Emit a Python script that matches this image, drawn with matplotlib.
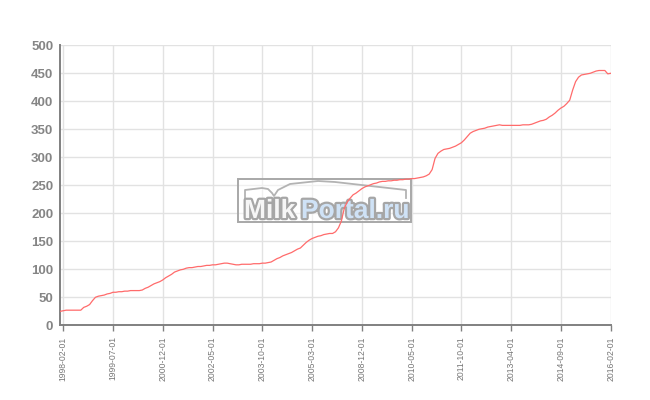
import matplotlib
matplotlib.use('Agg')
import matplotlib.pyplot as plt
import matplotlib.patheffects as pe
from matplotlib.patches import Rectangle
from matplotlib.lines import Line2D

plt.rcParams['font.family'] = ['Liberation Sans', 'DejaVu Sans']

# monthly values (1998-01 .. 2016-02, gap 2005-2008 squeezed)
values = [25, 26, 27, 27, 27, 27, 27, 27, 32, 34,
          37, 44, 50, 52, 53, 54, 56, 57, 59, 59,
          60, 60, 61, 61, 62, 62, 62, 62, 63, 66,
          68, 71, 74, 76, 78, 81, 85, 88, 91, 95,
          97, 99, 100, 102, 103, 103, 104, 105, 105, 106,
          107, 107, 108, 108, 109, 110, 111, 111, 110, 109,
          108, 108, 109, 109, 109, 109, 110, 110, 110, 111,
          111, 112, 113, 116, 119, 121, 124, 126, 128, 130,
          133, 136, 138, 143, 148, 152, 155, 157, 159, 160,
          162, 163, 164, 164, 167, 174, 186, 209, 220, 227,
          233, 236, 240, 244, 247, 249, 251, 253, 254, 256,
          257, 257, 258, 258, 259, 259, 260, 260, 261, 261,
          262, 262, 263, 264, 265, 267, 270, 278, 298, 307,
          311, 314, 315, 316, 318, 320, 323, 326, 331, 337,
          343, 346, 348, 350, 351, 352, 354, 355, 356, 357,
          358, 357, 357, 357, 357, 357, 357, 357, 358, 358,
          358, 359, 361, 363, 365, 366, 368, 372, 375, 379,
          384, 388, 391, 396, 402, 420, 435, 443, 447, 448,
          449, 450, 452, 454, 455, 455, 455, 449, 450]

tick_labels = ['1998-02-01', '1999-07-01', '2000-12-01', '2002-05-01',
               '2003-10-01', '2005-03-01', '2008-12-01', '2010-05-01',
               '2011-10-01', '2013-04-01', '2014-09-01', '2016-02-01']
y_ticks = [0, 50, 100, 150, 200, 250, 300, 350, 400, 450, 500]

W, H = 650, 400
fig = plt.figure(figsize=(6.5, 4), dpi=100)
ax = fig.add_axes([60.3 / W, 1 - 325.3 / H, 550.4 / W, 280 / H])

x = list(range(len(values)))
ax.plot(x, values, color='#ff6b6b', lw=0.9, zorder=3)

tick_pos = [1 + 17 * k for k in range(len(tick_labels))]
ax.set_xlim(0, len(values) - 1)
ax.set_ylim(0, 500)
ax.set_xticks(tick_pos)
ax.set_xticklabels(tick_labels, rotation=90, fontsize=6.2, color='#777777')
ax.set_yticks(y_ticks)
ax.set_yticklabels([str(v) for v in y_ticks], fontsize=9.5, fontweight='bold', color='#858585')

ax.grid(True, color='#e2e2e2', lw=1, zorder=0)
ax.set_axisbelow(True)
for s in ['top', 'right']:
    ax.spines[s].set_visible(False)
for s in ['left', 'bottom']:
    ax.spines[s].set_color('#808080')
    ax.spines[s].set_linewidth(1.4)
ax.tick_params(axis='x', length=4, width=1, color='#808080', pad=4)
ax.tick_params(axis='y', length=0, pad=5)

# watermark, between grid and line
tf = fig.transFigure
ax.add_patch(Rectangle((238 / W, 1 - 222 / H), 173 / W, 43 / H, transform=tf,
                       facecolor='white', alpha=0.5, edgecolor='none', zorder=1))
ax.add_patch(Rectangle((238 / W, 1 - 222 / H), 173 / W, 43 / H, transform=tf,
                       facecolor='none', edgecolor='#a8a8a8', lw=1.4, zorder=2))
px = [245, 245, 262, 268, 272, 274, 278, 290, 318, 335, 406, 406]
py = [198, 190, 188, 189, 193, 196, 190, 184, 181, 182, 190, 198]
ax.add_line(Line2D([a / W for a in px], [1 - b / H for b in py], transform=tf,
                   color='#b3b3b3', lw=1.3, zorder=2))
stroke = [pe.withStroke(linewidth=3.2, foreground='#a6a6a6')]
ax.text(244 / W, 1 - 218 / H, 'Milk', transform=tf, fontsize=19, fontweight='bold',
        color='#f6f6f6', path_effects=stroke, zorder=2)
ax.text(301 / W, 1 - 218 / H, 'Portal.ru', transform=tf, fontsize=19, fontweight='bold',
        color='#cfe2f6', path_effects=stroke, zorder=2)

fig.savefig('out.png', dpi=100)
